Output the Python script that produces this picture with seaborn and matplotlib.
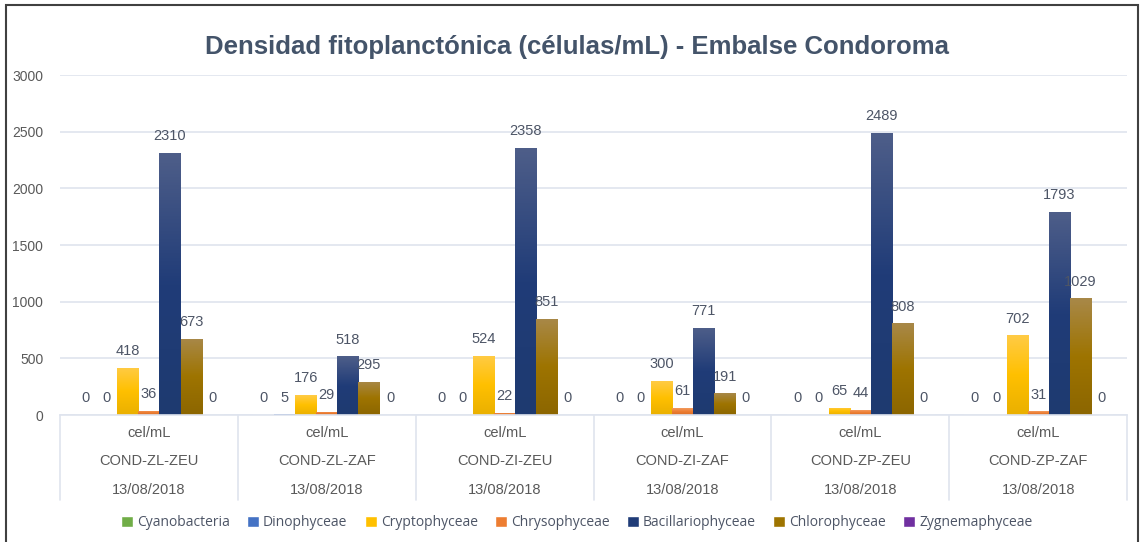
import numpy as np
import pandas as pd
import matplotlib.pyplot as plt
import seaborn as sns
from matplotlib.colors import LinearSegmentedColormap
from matplotlib.patches import Rectangle, Patch
from matplotlib import transforms

sites = ['COND-ZL-ZEU', 'COND-ZL-ZAF', 'COND-ZI-ZEU', 'COND-ZI-ZAF', 'COND-ZP-ZEU', 'COND-ZP-ZAF']
unit = 'cel/mL'
date = '13/08/2018'

groups = ['Cyanobacteria', 'Dinophyceae', 'Cryptophyceae', 'Chrysophyceae',
          'Bacillariophyceae', 'Chlorophyceae', 'Zygnemaphyceae']
cyano = [0, 0, 0, 0, 0, 0]
dino = [0, 5, 0, 0, 0, 0]
crypto = [418, 176, 524, 300, 65, 702]
chryso = [36, 29, 22, 61, 44, 31]
bacil = [2310, 518, 2358, 771, 2489, 1793]
chloro = [673, 295, 851, 191, 808, 1029]
zygne = [0, 0, 0, 0, 0, 0]

# top / middle / bottom colours for the gradient fill
grad = {
    'Cyanobacteria': ['#8cc26a', '#70ad47', '#62993d'],
    'Dinophyceae': ['#6a8fd3', '#4472c4', '#3a62ab'],
    'Cryptophyceae': ['#ffcb45', '#ffc000', '#eab000'],
    'Chrysophyceae': ['#f29a5e', '#ed7d31', '#d96f28'],
    'Bacillariophyceae': ['#4e5e89', '#203c78', '#1e3a70'],
    'Chlorophyceae': ['#a88848', '#9e7400', '#8c6600'],
    'Zygnemaphyceae': ['#8a52b3', '#7030a0', '#622890'],
}
palette = {k: v[1] for k, v in grad.items()}

vals = [cyano, dino, crypto, chryso, bacil, chloro, zygne]
df = pd.DataFrame({
    'site': np.tile(sites, len(groups)),
    'grupo': np.repeat(groups, len(sites)),
    'valor': np.concatenate(vals),
})

sns.set_style('white')
plt.rcParams['font.family'] = ['Liberation Sans', 'DejaVu Sans']

fig = plt.figure(figsize=(11.42, 5.42), dpi=100)
ax = fig.add_axes([0.0525, 0.2343, 0.9345, 0.6273])

sns.barplot(data=df, x='site', y='valor', hue='grupo', hue_order=groups,
            order=sites, palette=palette, width=0.83, ax=ax, legend=False,
            saturation=1, errorbar=None)

text_col = '#4d5566'
for cont, g in zip(ax.containers, groups):
    cmap = LinearSegmentedColormap.from_list(g, grad[g])
    for bar in cont:
        h = bar.get_height()
        if h <= 0:
            continue
        x0 = bar.get_x()
        x1 = x0 + bar.get_width()
        img = np.linspace(0, 1, 100).reshape(-1, 1)
        im = ax.imshow(img, cmap=cmap, extent=[x0, x1, 0, h], aspect='auto',
                       origin='upper', zorder=2)
        im.set_clip_path(bar)
        bar.set_alpha(0)
    ax.bar_label(cont, labels=[f'{v:.0f}' for v in cont.datavalues],
                 padding=7, fontsize=10.5, color=text_col)

ax.set_xlim(-0.5, len(sites) - 0.5)
ax.set_ylim(0, 3000)
ax.set_yticks(range(0, 3001, 500))
ax.yaxis.grid(True, color='#dfe4ee', linewidth=1.2)
ax.set_axisbelow(True)
for s in ['top', 'right', 'left']:
    ax.spines[s].set_visible(False)
ax.spines['bottom'].set_color('#dfe4ee')
ax.spines['bottom'].set_linewidth(1.2)
ax.tick_params(axis='y', labelsize=10, labelcolor='#595959', length=0, pad=12)
ax.set_xticks([])
ax.set_xlabel('')
ax.set_ylabel('')

# multi-level category labels
trans = transforms.blended_transform_factory(ax.transData, ax.transAxes)
for i, s in enumerate(sites):
    for y, t in [(-0.053, unit), (-0.135, s), (-0.22, date)]:
        ax.text(i, y, t, transform=trans, ha='center', va='center',
                fontsize=10.5, color='#595959', clip_on=False)
for b in np.arange(-0.5, len(sites), 1):
    ax.plot([b, b], [0, -0.25], transform=trans, color='#dfe4ee',
            linewidth=1.2, clip_on=False)

fig.suptitle('Densidad fitoplanctónica (células/mL) - Embalse Condoroma',
             x=0.505, y=0.935, fontsize=18.5, fontweight='bold', color='#44546a')

handles = [Patch(facecolor=palette[g], label=g) for g in groups]
fig.legend(handles=handles, loc='center', bbox_to_anchor=(0.505, 0.036),
           ncol=7, frameon=False, handlelength=0.85,
           handleheight=0.85, handletextpad=0.3, columnspacing=1.25,
           labelcolor='#4d5566', prop={'family': ['Open Sans', 'DejaVu Sans'], 'size': 10})

fig.add_artist(Rectangle((6 / 1142, -0.01), 1132 / 1142, 1.0 - 5 / 542 + 0.01,
                         transform=fig.transFigure, fill=False,
                         edgecolor='#404040', linewidth=1.5))

fig.savefig('out.png', dpi=100)
